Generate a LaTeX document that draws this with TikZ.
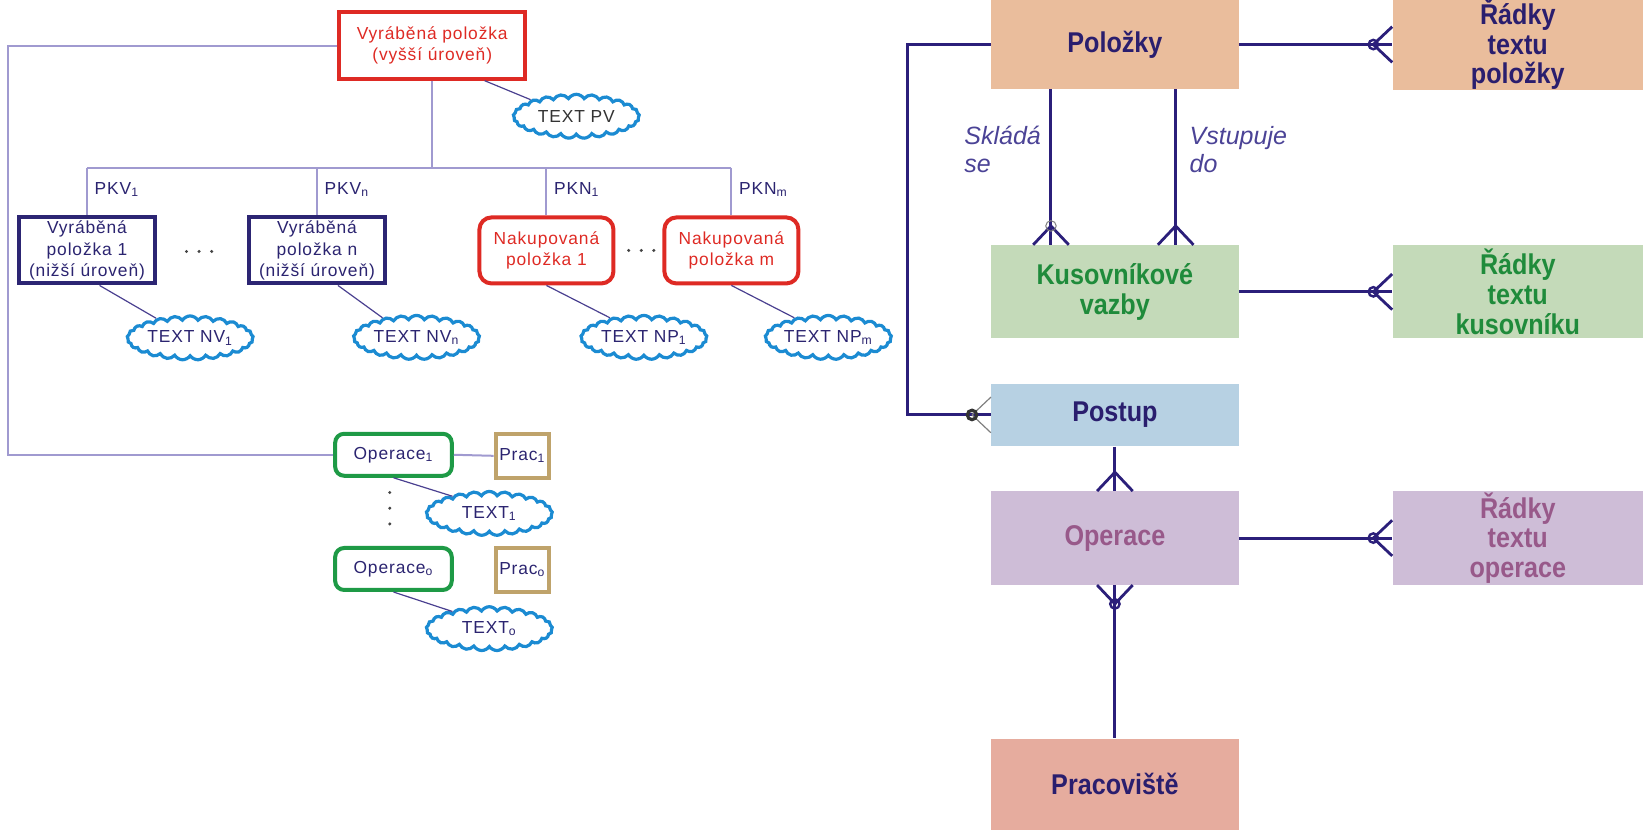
\documentclass[tikz,border=0pt]{standalone}
\usepackage{fontspec}
\setmainfont{Liberation Sans}
\newfontfamily\lfont[LetterSpace=5]{Liberation Sans}
\newfontfamily\erfont[FakeStretch=0.88]{Liberation Sans}
\usetikzlibrary{shapes.symbols,calc}

\definecolor{navytxt}{HTML}{2B2470}
\definecolor{redc}{HTML}{DE2A24}
\definecolor{navyc}{HTML}{2C2573}
\definecolor{greenc}{HTML}{1E9A46}
\definecolor{tanc}{HTML}{BFA36B}
\definecolor{cloudc}{HTML}{1B8BD2}
\definecolor{lavc}{HTML}{A09AD0}
\definecolor{thinc}{HTML}{4A4090}
\definecolor{dotc}{HTML}{444444}
\definecolor{erc}{HTML}{2B1F7A}
\definecolor{ertxt}{HTML}{2A1E6E}
\definecolor{ergreen}{HTML}{1F8B3B}
\definecolor{ermauve}{HTML}{98598A}
\definecolor{labc}{HTML}{4B4396}
\definecolor{fpol}{HTML}{EABD9C}
\definecolor{fkus}{HTML}{C4DAB9}
\definecolor{fpst}{HTML}{B7D1E3}
\definecolor{fope}{HTML}{CEBDD7}
\definecolor{fprc}{HTML}{E6AC9E}

\begin{document}
\begin{tikzpicture}[x=0.52392pt,y=-0.52392pt,
  lt/.style={font=\lfont\fontsize{8.7}{10.6}\selectfont, align=center, text=navytxt, inner sep=0pt},
  lbox/.style={lt, draw, line width=2pt},
  topbox/.style={lbox, draw=redc, text=redc, minimum width=92.8pt, minimum height=33.1pt},
  navybox/.style={lbox, draw=navyc, minimum width=68pt, minimum height=33pt},
  nakbox/.style={lbox, draw=redc, text=redc, rounded corners=6pt, minimum width=67pt, minimum height=33pt},
  opbox/.style={lbox, draw=greenc, rounded corners=4.5pt, minimum width=58.3pt, minimum height=21pt},
  prbox/.style={lbox, draw=tanc, minimum width=26.8pt, minimum height=22pt},
  txtcloud/.style={lt, cloud, cloud puffs=25, cloud puff arc=115, cloud ignores aspect,
    draw=cloudc, line width=1.6pt, fill=white, minimum width=63pt, minimum height=22pt},
  lav/.style={draw=lavc, line width=1pt},
  thin/.style={draw=thinc, line width=0.6pt},
  erbox/.style={inner sep=0pt, align=center, font=\erfont\fontsize{14.3}{14.8}\selectfont\bfseries,
    text=ertxt, minimum width=123.6pt},
  er/.style={draw=erc, line width=1.5pt},
  erlab/.style={inner sep=0pt, align=left, anchor=north west, text=labc,
    font=\fontsize{12.5}{14}\selectfont\itshape},
  crow/.pic={\draw[er, line width=1.4pt] (18,0) -- (0,17) (18,0) -- (0,-17);},
  crowo/.pic={\draw[er, line width=1.4pt] (18,0) -- (0,17) (18,0) -- (0,-17);
    \draw[er, line width=1.2pt] (18,0) circle[radius=4.5];},
  crowg/.pic={\draw[er, line width=1.4pt] (18,0) -- (0,17) (18,0) -- (0,-17);
    \draw[gray, line width=0.5pt] (18,0) circle[radius=5];},
  crowp/.pic={\draw[gray, line width=0.6pt] (18,0) -- (0,17) (18,0) -- (0,-17);
    \draw[black!80, line width=1.6pt] (18,0) circle[radius=4.5];}
]
\useasboundingbox (0,0) rectangle (1568,792);

% ---------- product structure tree ----------
\node[topbox] (rv) at (412.5,43.5) {Vyráběná položka\\(vyšší úroveň)};
\node[navybox] (nv1) at (83,239) {Vyráběná\\položka 1\\(nižší úroveň)};
\node[navybox] (nvn) at (302.5,239) {Vyráběná\\položka n\\(nižší úroveň)};
\node[nakbox] (np1) at (521.5,239) {Nakupovaná\\položka 1};
\node[nakbox] (npm) at (698,239) {Nakupovaná\\položka m};
\node[opbox] (op1) at (375.5,434) {Operace\textsubscript{1}};
\node[prbox] (pr1) at (498.5,435) {Prac\textsubscript{1}};
\node[opbox] (opo) at (375.5,543) {Operace\textsubscript{o}};
\node[prbox] (pro) at (498.5,544) {Prac\textsubscript{o}};

\node[txtcloud, text=black!80] (tpv) at (550,111) {TEXT PV};
\node[txtcloud] (tnv1) at (181.5,322.5) {TEXT NV\textsubscript{1}};
\node[txtcloud] (tnvn) at (397.5,322) {TEXT NV\textsubscript{n}};
\node[txtcloud] (tnp1) at (614.5,322) {TEXT NP\textsubscript{1}};
\node[txtcloud] (tnpm) at (790.5,322) {TEXT NP\textsubscript{m}};
\node[txtcloud] (t1) at (467,490) {TEXT\textsubscript{1}};
\node[txtcloud] (to) at (467,600) {TEXT\textsubscript{o}};

\coordinate (bus) at (0,160);
\coordinate (lc) at (8,0);
\draw[lav] (rv.west) -- (rv.west -| lc) -- (lc |- op1.west) -- (op1.west);
\draw[lav] (rv.south) -- (rv.south |- bus);
\draw[lav] (nv1.north |- bus) -- (npm.north |- bus);
\foreach \n in {nv1,nvn,np1,npm} \draw[lav] (\n.north |- bus) -- (\n.north);
\draw[lav] (op1.east) -- (pr1.west);

\node[lt, anchor=west] (k1) at ($(nv1.north |- bus)+(7,21)$) {PKV\textsubscript{1}};
\node[lt, anchor=west] (k2) at ($(nvn.north |- bus)+(7,21)$) {PKV\textsubscript{n}};
\node[lt, anchor=west] (k3) at ($(np1.north |- bus)+(7,21)$) {PKN\textsubscript{1}};
\node[lt, anchor=west] (k4) at ($(npm.north |- bus)+(7,21)$) {PKN\textsubscript{m}};

\draw[thin] ($(rv.south)+(50,0)$) -- (tpv.160);
\draw[thin] ($(nv1.south)+(12,0)$) -- (tnv1.150);
\draw[thin] ($(nvn.south)+(20,0)$) -- (tnvn.150);
\draw[thin] (np1.south) -- (tnp1.150);
\draw[thin] (npm.south) -- (tnpm.150);
\draw[thin] (op1.south) -- (t1.155);
\draw[thin] (opo.south) -- (to.155);

% ellipsis dots
\foreach \dx in {-12,0,12} {
  \fill[dotc] (190+\dx,240) circle[radius=1.6];
  \fill[dotc] (612+\dx,239) circle[radius=1.6];
}
\foreach \dy in {-15,0,15} \fill[dotc] (372,485+\dy) circle[radius=1.6];

% ---------- entity relationship model ----------
\node[erbox, fill=fpol, minimum height=44.5pt] (pol) at (1064,42.5) {Položky};
\node[erbox, fill=fpol, minimum height=44.5pt, minimum width=125.2pt] (rtp) at (1448.5,42.5) {Řádky\\textu\\položky};
\node[erbox, fill=fkus, text=ergreen, minimum height=46.6pt] (kus) at (1064,278.5) {Kusovníkové\\vazby};
\node[erbox, fill=fkus, text=ergreen, minimum height=46.6pt, minimum width=125.2pt] (rtk) at (1448.5,278.5) {Řádky\\textu\\kusovníku};
\node[erbox, fill=fpst, minimum height=31.4pt] (pst) at (1064,396) {Postup};
\node[erbox, fill=fope, text=ermauve, minimum height=46.6pt] (ope) at (1064,513.5) {Operace};
\node[erbox, fill=fope, text=ermauve, minimum height=46.6pt, minimum width=125.2pt] (rto) at (1448.5,513.5) {Řádky\\textu\\operace};
\node[erbox, fill=fprc, minimum height=45.6pt] (prc) at (1064,748.5) {Pracoviště};

\coordinate (s1) at (1003,0);
\coordinate (s2) at (1122,0);
\coordinate (lc2) at (866,0);

\draw[er] (pol.east) -- (rtp.west);
\pic[rotate=180] at (rtp.west) {crowo};
\draw[er] (kus.east) -- (rtk.west);
\pic[rotate=180] at (rtk.west) {crowo};
\draw[er] (ope.east) -- (rto.west);
\pic[rotate=180] at (rto.west) {crowo};

\draw[er] (s1 |- pol.south) -- (s1 |- kus.north);
\pic[rotate=90] at (s1 |- kus.north) {crowg};
\draw[er] (s2 |- pol.south) -- (s2 |- kus.north);
\pic[rotate=90] at (s2 |- kus.north) {crow};

\draw[er] (pol.west) -- (pol.west -| lc2) -- (lc2 |- pst.west) -- (pst.west);
\pic[rotate=180] at (pst.west) {crowp};

\draw[er] (pst.south) -- (ope.north);
\pic[rotate=90] at (ope.north) {crow};
\draw[er] (ope.south) -- (prc.north);
\pic[rotate=-90] at (ope.south) {crowo};

\node[erlab] (lab1) at (920,120) {Skládá\\se};
\node[erlab] (lab2) at (1135,120) {Vstupuje\\do};
\end{tikzpicture}
\end{document}
